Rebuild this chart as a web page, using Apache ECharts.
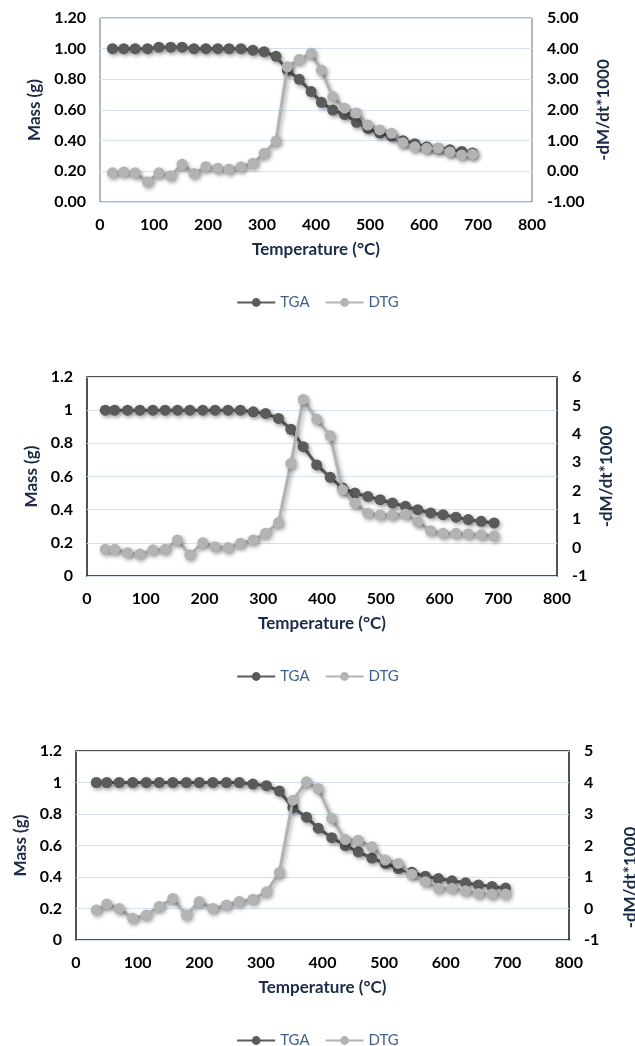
<!DOCTYPE html>
<html>
<head>
<meta charset="utf-8">
<script src="https://cdn.jsdelivr.net/npm/echarts@6/dist/echarts.min.js"></script>
<style>html,body{margin:0;padding:0;background:#fff;}#c{width:635px;height:1046px;}</style>
</head>
<body>
<div id="c"></div>
<script>
// ---- Data ----
const temps1 = [23,44,65,88,109,131,152,174,196,218,239,261,283,304,326,347,369,391,410,431,453,475,496,518,540,561,583,605,626,648,670,690];
const tga1   = [1.00,1.00,1.00,1.00,1.01,1.01,1.01,1.00,1.00,1.00,1.00,1.00,0.99,0.98,0.95,0.86,0.80,0.72,0.65,0.60,0.57,0.52,0.48,0.45,0.43,0.40,0.38,0.36,0.35,0.34,0.33,0.32];
const dtg1   = [-0.05,-0.02,-0.05,-0.34,-0.05,-0.14,0.23,-0.07,0.15,0.10,0.07,0.15,0.26,0.59,0.99,3.41,3.65,3.85,3.30,2.43,2.06,1.90,1.51,1.35,1.24,0.93,0.80,0.75,0.75,0.63,0.53,0.56];

const temps2 = [31,47,69,90,112,133,154,175,197,218,240,261,283,304,326,347,368,391,414,435,456,478,499,520,542,563,585,606,628,649,671,693];
const tga2   = [1.00,1.00,1.00,1.00,1.00,1.00,1.00,1.00,1.00,1.00,1.00,1.00,0.99,0.98,0.95,0.885,0.78,0.67,0.595,0.53,0.50,0.48,0.46,0.44,0.42,0.40,0.38,0.37,0.355,0.34,0.33,0.32];
const dtg2   = [-0.06,-0.06,-0.18,-0.23,-0.08,-0.06,0.27,-0.26,0.17,0.03,0.00,0.15,0.27,0.50,0.88,2.96,5.21,4.51,3.93,2.03,1.56,1.21,1.15,1.15,1.18,0.91,0.59,0.50,0.50,0.48,0.45,0.41];

const temps3 = [33,50,70,92,114,135,157,179,200,222,244,265,287,309,330,352,374,393,415,437,458,480,502,523,545,567,588,610,632,653,675,697];
const tga3   = [1.00,1.00,1.00,1.00,1.00,1.00,1.00,1.00,1.00,1.00,1.00,1.00,0.99,0.98,0.946,0.84,0.78,0.71,0.65,0.60,0.56,0.52,0.486,0.454,0.43,0.405,0.39,0.376,0.363,0.35,0.34,0.33];
const dtg3   = [-0.05,0.14,0.00,-0.31,-0.21,0.06,0.32,-0.21,0.22,0.00,0.11,0.22,0.29,0.53,1.14,3.44,4.02,3.81,2.86,2.19,2.17,1.96,1.54,1.43,1.09,0.85,0.64,0.64,0.56,0.48,0.46,0.46];

const seriesNames = ['TGA','DTG'];
const xTitle = 'Temperature (°C)';
const yLeftTitle = 'Mass (g)';
const yRightTitle = '-dM/dt*1000';
const rightMax = [5, 6, 5];

// ---- Styles ----
const FONT = 'Lato, "Liberation Sans", sans-serif';
const TGA_COLOR = '#5b5b5b';
const DTG_COLOR = '#b3b3b3';
const NAME_COLOR = '#1b2a47';

const zip = (xs, ys) => xs.map((x, i) => [x, ys[i]]);

const layouts = [
  {left:100, right:103, top:18, height:184, border:'#707070', bw:1, lGap:46, rGap:52, rPad:0, legendTop:290, fixed:true},
  {left:87, right:78, top:377, height:199, border:'#1a1a1a', bw:1.5, lGap:42, rGap:34, rPad:0, legendTop:664, fixed:false},
  {left:76, right:66, top:751, height:189, border:'#1a1a1a', bw:1.5, lGap:40, rGap:53, rPad:64, legendTop:1028, fixed:false}
];
const datasets = [[temps1,tga1,dtg1],[temps2,tga2,dtg2],[temps3,tga3,dtg3]];

const grid = [], xAxis = [], yAxis = [], series = [], legend = [];
const shadow = {shadowColor:'rgba(0,0,0,0.35)', shadowBlur:4, shadowOffsetX:1.5, shadowOffsetY:2};
const tickLabel = {color:'#000', fontFamily:FONT, fontWeight:'bold', fontSize:16};
const nameStyle = {color:NAME_COLOR, fontFamily:FONT, fontWeight:'bold', fontSize:17};

layouts.forEach((L, i) => {
  grid.push({left:L.left, right:L.right, top:L.top, height:L.height, show:true, borderColor:L.border, borderWidth:L.bw,
    backgroundColor:'#fff', containLabel:false, outerBoundsMode:'none'});
  xAxis.push({type:'value', gridIndex:i, min:0, max:800, interval:100,
    name:xTitle, nameLocation:'middle', nameGap:39,
    nameTextStyle:Object.assign({}, nameStyle),
    axisLine:{show:false}, axisTick:{show:false}, splitLine:{show:false},
    axisLabel:Object.assign({margin:15}, tickLabel)});
  yAxis.push({type:'value', gridIndex:i, position:'left', min:0, max:1.2, interval:0.2,
    name:yLeftTitle, nameLocation:'middle', nameGap:L.lGap, nameRotate:90,
    nameTextStyle:Object.assign({}, nameStyle),
    axisLine:{show:false}, axisTick:{show:false},
    splitLine:{show:true, lineStyle:{color:'#d5e2f1', width:1}},
    axisLabel:Object.assign({margin:14, formatter: v => L.fixed ? v.toFixed(2) : String(+v.toFixed(2))}, tickLabel)});
  yAxis.push({type:'value', gridIndex:i, position:'right', min:-1, max:rightMax[i], interval:1,
    name:yRightTitle, nameLocation:'middle', nameGap:L.rGap, nameRotate:90,
    nameTextStyle:Object.assign({padding:[0, L.rPad, 0, 0]}, nameStyle),
    axisLine:{show:false}, axisTick:{show:false}, splitLine:{show:false},
    axisLabel:Object.assign({margin:15, formatter: v => L.fixed ? v.toFixed(2) : String(v)}, tickLabel)});
  const [t, a, d] = datasets[i];
  series.push({name:seriesNames[0], type:'line', xAxisIndex:i, yAxisIndex:2*i, data:zip(t, a),
    symbol:'circle', symbolSize:11, color:TGA_COLOR,
    lineStyle:Object.assign({width:3, color:TGA_COLOR}, shadow),
    itemStyle:Object.assign({color:TGA_COLOR}, shadow), z:2});
  series.push({name:seriesNames[1], type:'line', xAxisIndex:i, yAxisIndex:2*i+1, data:zip(t, d),
    symbol:'circle', symbolSize:11, color:DTG_COLOR,
    lineStyle:Object.assign({width:3, color:DTG_COLOR}, shadow),
    itemStyle:Object.assign({color:DTG_COLOR}, shadow), z:3});
  legend.push({data:seriesNames, top:L.legendTop, left:'center', itemWidth:38, itemHeight:11, itemGap:15,
    textStyle:{color:'#3f5f93', fontFamily:FONT, fontSize:15}, selectedMode:false});
});

const chart = echarts.init(document.getElementById('c'), null, {renderer:'canvas'});
chart.setOption({animation:false, backgroundColor:'#fff', grid, xAxis, yAxis, series, legend});
</script>
</body>
</html>
